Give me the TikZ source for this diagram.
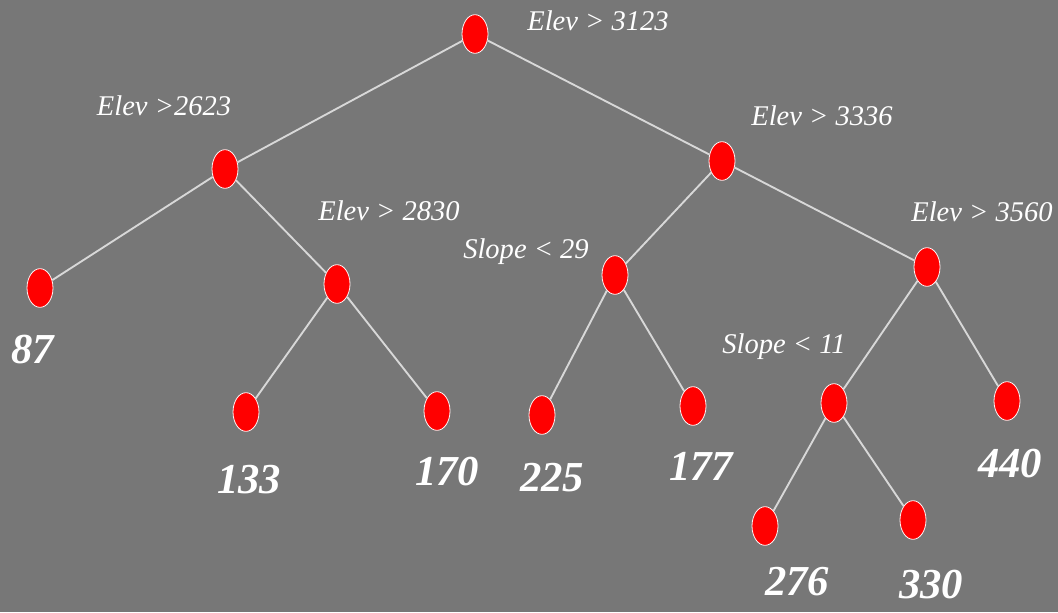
\documentclass[tikz,border=0pt]{standalone}
\usepackage{fontspec}
\setmainfont{Liberation Serif}
\usetikzlibrary{shapes.geometric}
\definecolor{bg}{HTML}{777777}
\definecolor{leafred}{HTML}{FF0000}
\definecolor{edgecol}{HTML}{D8D8D8}
\begin{document}
\begin{tikzpicture}[x=0.75pt,y=-0.75pt,
  tn/.style={ellipse, draw=white!80!pink, line width=0.6pt, fill=leafred, minimum width=19.5pt, minimum height=29pt, inner sep=0pt},
  edge/.style={draw=edgecol, line width=1.4pt},
  rule/.style={text=white, font=\fontsize{21.4}{24}\selectfont\itshape, inner sep=0pt},
  val/.style={text=white, font=\fontsize{32}{36}\selectfont\bfseries\itshape, inner sep=0pt}]
\fill[bg] (0,0) rectangle (1058,612);
\useasboundingbox (0,0) rectangle (1058,612);
\node[tn] (root) at (475,34) {};
\node[tn] (L) at (225,169) {};
\node[tn] (R) at (722,161) {};
\node[tn] (LL) at (40,288) {};
\node[tn] (LR) at (337,284) {};
\node[tn] (LRL) at (246,412) {};
\node[tn] (LRR) at (437,411) {};
\node[tn] (RL) at (615,275) {};
\node[tn] (RR) at (927,267) {};
\node[tn] (RLL) at (542,415) {};
\node[tn] (RLR) at (693,406) {};
\node[tn] (RRL) at (834,403) {};
\node[tn] (RRR) at (1007,401) {};
\node[tn] (RRLL) at (765,526) {};
\node[tn] (RRLR) at (913,520) {};
\foreach \a/\b in {root/L,root/R,L/LL,L/LR,LR/LRL,LR/LRR,R/RL,R/RR,RL/RLL,RL/RLR,RR/RRL,RR/RRR,RRL/RRLL,RRL/RRLR}
  \draw[edge] (\a) -- (\b);
\node[rule] (t1) at (598,21) {Elev > 3123};
\node[rule] (t2) at (164,106) {Elev >2623};
\node[rule] (t3) at (822,116) {Elev > 3336};
\node[rule] (t4) at (389,211) {Elev > 2830};
\node[rule] (t5) at (526,252) {Slope < 29};
\node[rule] (t6) at (982,212) {Elev > 3560};
\node[rule] (t7) at (784,347) {Slope < 11};
\node[val] (v1) at (33,350) {87};
\node[val] (v2) at (249,480) {133};
\node[val] (v3) at (447,472) {170};
\node[val] (v4) at (552,478) {225};
\node[val] (v5) at (701,466) {177};
\node[val] (v6) at (1010,464) {440};
\node[val] (v7) at (797,582) {276};
\node[val] (v8) at (931,585) {330};
\end{tikzpicture}
\end{document}
